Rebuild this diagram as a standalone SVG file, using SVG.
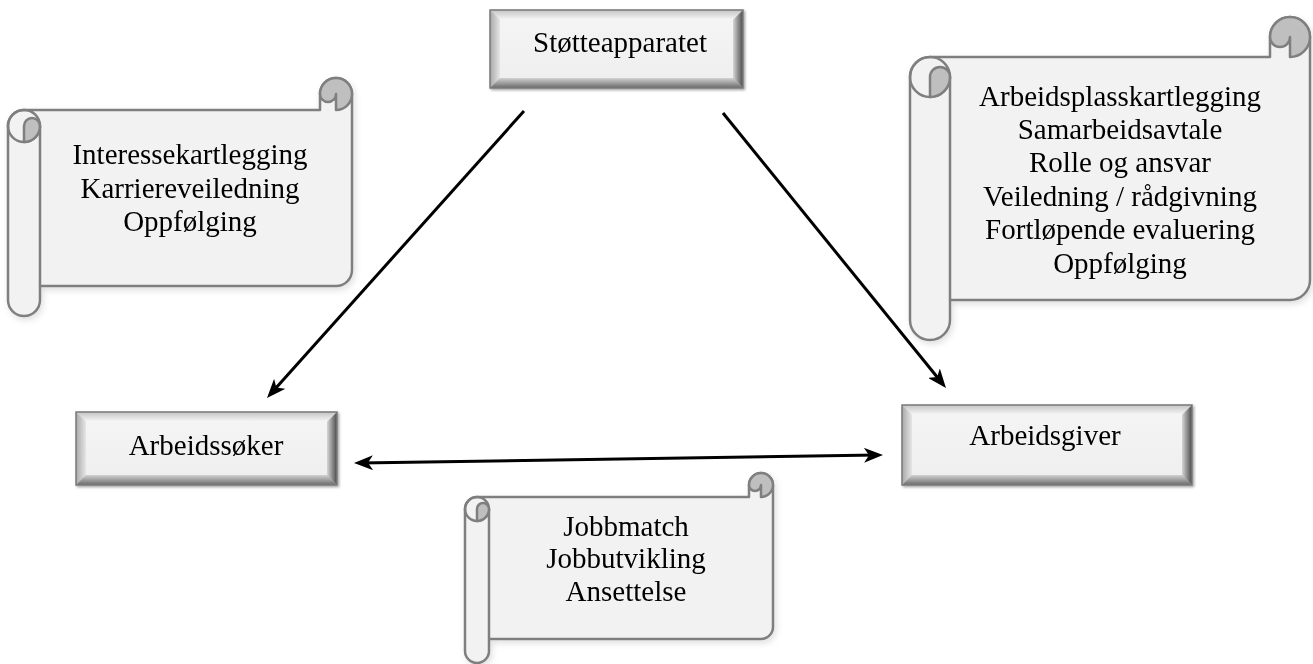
<svg xmlns="http://www.w3.org/2000/svg" width="1313" height="664" viewBox="0 0 1313 664">
  <defs>
    <style>
      .txt { font-family: "Liberation Serif", "Times New Roman", serif; font-size: 29px; fill: #000; text-anchor: middle; }
      .scroll-body { fill: #f2f2f2; stroke: #7f7f7f; stroke-width: 2.5; stroke-linejoin: round; }
      .scroll-line { fill: none; stroke: #7f7f7f; stroke-width: 2.5; }
      .scroll-curl { fill: #bfbfbf; stroke: #7f7f7f; stroke-width: 2.5; stroke-linejoin: round; }
      .bv-top { fill: url(#bvTop); }
      .bv-left { fill: url(#bvLeft); }
      .bv-right { fill: url(#bvRight); }
      .bv-bottom { fill: url(#bvBottom); }
      .bv-face { fill: url(#bvFace); }
      .bv-edge { fill: none; stroke: #7a7a7a; stroke-width: 1.5; }
      .conn { fill: none; stroke: #000; stroke-width: 3; }
    </style>
    <linearGradient id="bvTop" x1="0" y1="0" x2="0" y2="1">
      <stop offset="0" stop-color="#c4c4c4"/>
      <stop offset="1" stop-color="#f8f8f8"/>
    </linearGradient>
    <linearGradient id="bvLeft" x1="0" y1="0" x2="1" y2="0">
      <stop offset="0" stop-color="#a8a8a8"/>
      <stop offset="1" stop-color="#e6e6e6"/>
    </linearGradient>
    <linearGradient id="bvRight" x1="0" y1="0" x2="1" y2="0">
      <stop offset="0" stop-color="#d6d6d6"/>
      <stop offset="1" stop-color="#4a4a4a"/>
    </linearGradient>
    <linearGradient id="bvBottom" x1="0" y1="0" x2="0" y2="1">
      <stop offset="0" stop-color="#d2d2d2"/>
      <stop offset="1" stop-color="#6a6a6a"/>
    </linearGradient>
    <linearGradient id="bvFace" x1="0" y1="0" x2="0" y2="1">
      <stop offset="0" stop-color="#f4f4f4"/>
      <stop offset="1" stop-color="#efefef"/>
    </linearGradient>
    <filter id="boxShadow" x="-10%" y="-10%" width="120%" height="130%">
      <feDropShadow dx="1.5" dy="1.5" stdDeviation="1" flood-color="#000" flood-opacity="0.35"/>
    </filter>
    <filter id="scrollShadow" x="-10%" y="-10%" width="120%" height="125%">
      <feDropShadow dx="2" dy="3" stdDeviation="3" flood-color="#000" flood-opacity="0.12"/>
    </filter>
    <marker id="head" viewBox="0 0 19 15" refX="13" refY="7.5" markerWidth="19" markerHeight="15" markerUnits="userSpaceOnUse" orient="auto-start-reverse">
      <path d="M0,0 L19,7.5 L0,15 L5,7.5 Z" fill="#000"/>
    </marker>
  </defs>

  <rect width="1313" height="664" fill="#ffffff"/>

  <!-- scroll: job seeker tasks -->
  <g id="scroll-soker" filter="url(#scrollShadow)">
    <path class="scroll-body" d="M352,94 L352,270 A16,16 0 0 1 336,286 L40,286 L40,300 A16,16 0 0 1 8,300 L8,126 A16,16 0 0 1 24,110 L320,110 L320,94 A16,16 0 0 1 352,94 Z"/>
    <path class="scroll-line" d="M40,126 L40,286"/>
    <circle class="scroll-line" cx="24" cy="126" r="16"/>
    <path class="scroll-curl" d="M24,142 A16,16 0 0 0 40,126 A8,8 0 0 0 24,126 Z"/>
    <path class="scroll-curl" d="M336,110 A16,16 0 0 0 352,94 A16,16 0 0 0 320,94 A8,8 0 0 0 336,94 Z"/>
    <text class="txt" x="190" y="164">Interessekartlegging</text>
    <text class="txt" x="190" y="198">Karriereveiledning</text>
    <text class="txt" x="190" y="231">Oppfølging</text>
  </g>

  <!-- scroll: employer tasks -->
  <g id="scroll-giver" filter="url(#scrollShadow)">
    <path class="scroll-body" d="M1310,37 L1310,280 A20,20 0 0 1 1290,300 L950,300 L950,320 A20,20 0 0 1 910,320 L910,77 A20,20 0 0 1 930,57 L1270,57 L1270,37 A20,20 0 0 1 1310,37 Z"/>
    <path class="scroll-line" d="M950,77 L950,300"/>
    <circle class="scroll-line" cx="930" cy="77" r="20"/>
    <path class="scroll-curl" d="M930,97 A20,20 0 0 0 950,77 A10,10 0 0 0 930,77 Z"/>
    <path class="scroll-curl" d="M1290,57 A20,20 0 0 0 1310,37 A20,20 0 0 0 1270,37 A10,10 0 0 0 1290,37 Z"/>
    <text class="txt" x="1120" y="106">Arbeidsplasskartlegging</text>
    <text class="txt" x="1120" y="139">Samarbeidsavtale</text>
    <text class="txt" x="1120" y="172">Rolle og ansvar</text>
    <text class="txt" x="1120" y="205.5">Veiledning / rådgivning</text>
    <text class="txt" x="1120" y="239">Fortløpende evaluering</text>
    <text class="txt" x="1120" y="272.5">Oppfølging</text>
  </g>

  <!-- scroll: matching -->
  <g id="scroll-match" filter="url(#scrollShadow)">
    <path class="scroll-body" d="M773,485 L773,627 A12,12 0 0 1 761,639 L489,639 L489,651 A12,12 0 0 1 465,651 L465,509 A12,12 0 0 1 477,497 L749,497 L749,485 A12,12 0 0 1 773,485 Z"/>
    <path class="scroll-line" d="M489,509 L489,639"/>
    <circle class="scroll-line" cx="477" cy="509" r="12"/>
    <path class="scroll-curl" d="M477,521 A12,12 0 0 0 489,509 A6,6 0 0 0 477,509 Z"/>
    <path class="scroll-curl" d="M761,497 A12,12 0 0 0 773,485 A12,12 0 0 0 749,485 A6,6 0 0 0 761,485 Z"/>
    <text class="txt" x="626" y="536">Jobbmatch</text>
    <text class="txt" x="626" y="568">Jobbutvikling</text>
    <text class="txt" x="626" y="601">Ansettelse</text>
  </g>

  <!-- bevelled node: support system -->
  <g id="node-stotteapparatet" filter="url(#boxShadow)">
    <polygon class="bv-top" points="490,10 743,10 733,20 500,20"/>
    <polygon class="bv-left" points="490,10 500,20 500,78 490,88"/>
    <polygon class="bv-right" points="743,10 743,88 733,78 733,20"/>
    <polygon class="bv-bottom" points="490,88 500,78 733,78 743,88"/>
    <rect class="bv-face" x="500" y="20" width="233" height="58"/>
    <rect class="bv-edge" x="490" y="10" width="253" height="78"/>
    <text class="txt" x="620" y="52">Støtteapparatet</text>
  </g>

  <!-- bevelled node: job seeker -->
  <g id="node-arbeidssoker" filter="url(#boxShadow)">
    <polygon class="bv-top" points="76,412 337,412 327,422 86,422"/>
    <polygon class="bv-left" points="76,412 86,422 86,475 76,485"/>
    <polygon class="bv-right" points="337,412 337,485 327,475 327,422"/>
    <polygon class="bv-bottom" points="76,485 86,475 327,475 337,485"/>
    <rect class="bv-face" x="86" y="422" width="241" height="53"/>
    <rect class="bv-edge" x="76" y="412" width="261" height="73"/>
    <text class="txt" x="206" y="455">Arbeidssøker</text>
  </g>

  <!-- bevelled node: employer -->
  <g id="node-arbeidsgiver" filter="url(#boxShadow)">
    <polygon class="bv-top" points="902,405 1192,405 1182,415 912,415"/>
    <polygon class="bv-left" points="902,405 912,415 912,475 902,485"/>
    <polygon class="bv-right" points="1192,405 1192,485 1182,475 1182,415"/>
    <polygon class="bv-bottom" points="902,485 912,475 1182,475 1192,485"/>
    <rect class="bv-face" x="912" y="415" width="270" height="60"/>
    <rect class="bv-edge" x="902" y="405" width="290" height="80"/>
    <text class="txt" x="1045" y="445">Arbeidsgiver</text>
  </g>

  <!-- connectors -->
  <g id="connectors">
    <line class="conn" x1="524" y1="111" x2="271" y2="393.5" marker-end="url(#head)"/>
    <line class="conn" x1="723" y1="113" x2="942.2" y2="383.3" marker-end="url(#head)"/>
    <line class="conn" x1="360" y1="462.9" x2="877" y2="455.1" marker-start="url(#head)" marker-end="url(#head)"/>
  </g>
</svg>
